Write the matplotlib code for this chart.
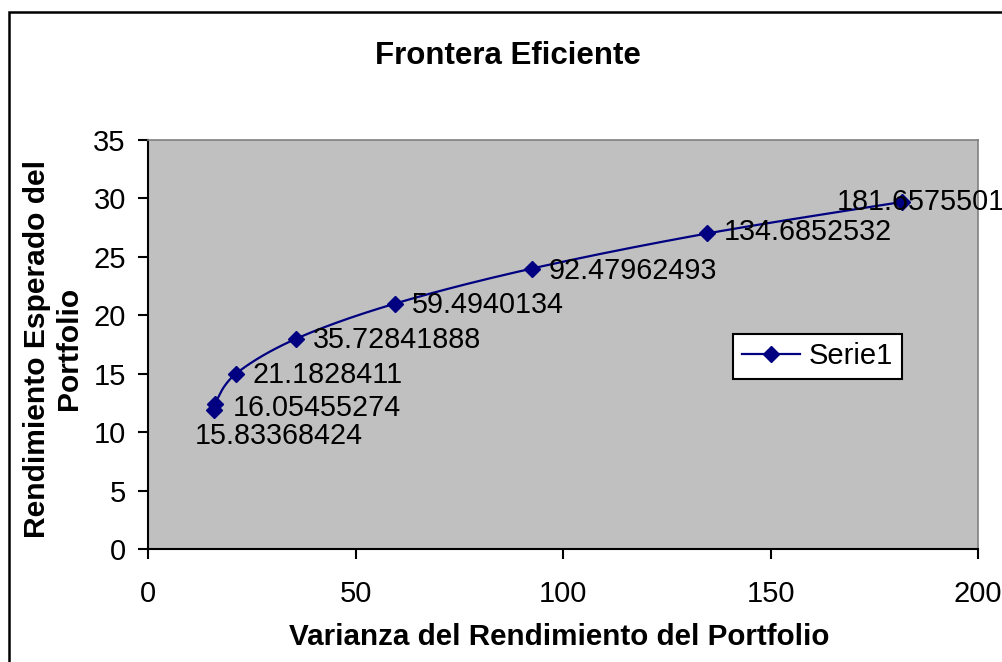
import matplotlib
matplotlib.use("Agg")
import matplotlib.pyplot as plt
from matplotlib.patches import Rectangle
import numpy as np

# Frontera eficiente: varianza vs rendimiento esperado
varianza = [15.83368424, 16.05455274, 21.1828411, 35.72841888,
            59.4940134, 92.47962493, 134.6852532, 181.6575501]
rendimiento = [11.9, 12.4, 15.0, 18.0, 21.0, 24.0, 27.0, 29.7]
xticks = [0, 50, 100, 150, 200]
yticks = [0, 5, 10, 15, 20, 25, 30, 35]

plt.rcParams['font.family'] = ['Liberation Sans', 'DejaVu Sans']
azul = '#000080'

fig = plt.figure(figsize=(10.03, 6.62), dpi=100)
ax = fig.add_axes([0.1476, 0.1707, 0.8276, 0.6178])
ax.set_facecolor('#c0c0c0')
ax.set_xlim(0, 200)
ax.set_ylim(0, 35)
ax.set_xticks(xticks)
ax.set_yticks(yticks)
ax.tick_params(labelsize=21, direction='out', length=7, width=1.5)
ax.tick_params(axis='y', pad=9)
ax.tick_params(axis='x', pad=15)


def suavizar(x, y, n=30):
    # curva tipo Excel (Catmull-Rom / Bezier) en coordenadas de pantalla
    pts = ax.transData.transform(np.column_stack([x, y]))
    out = [pts[0]]
    for i in range(len(pts) - 1):
        p0 = pts[max(i - 1, 0)]
        p1 = pts[i]
        p2 = pts[i + 1]
        p3 = pts[min(i + 2, len(pts) - 1)]
        c1 = p1 + (p2 - p0) / 6
        c2 = p2 - (p3 - p1) / 6
        t = np.linspace(0, 1, n)[1:, None]
        seg = ((1 - t) ** 3) * p1 + 3 * ((1 - t) ** 2) * t * c1 + 3 * (1 - t) * t ** 2 * c2 + t ** 3 * p2
        out.extend(seg)
    out = ax.transData.inverted().transform(np.array(out))
    return out[:, 0], out[:, 1]


sx, sy = suavizar(varianza, rendimiento)
ax.plot(sx, sy, color=azul, lw=1.6)
ax.plot(varianza, rendimiento, ls='none', marker='D', ms=8.5, color=azul)
ax.plot([], [], color=azul, lw=1.6, marker='D', ms=8.5, label='Serie1')

# desplazamientos de las etiquetas (puntos)
offs = [(-14, -19), (13, -3), (12, -1), (12, -1), (12, -1), (12, -2), (12, 1), (-47, 0)]
for x, y, (dx, dy) in zip(varianza, rendimiento, offs):
    ax.annotate(f"{x:.10g}", (x, y), xytext=(dx, dy), textcoords='offset points',
                ha='left', va='center', fontsize=20.7, annotation_clip=False)

for s in ['left', 'bottom']:
    ax.spines[s].set_linewidth(1.5)
for s in ['top', 'right']:
    ax.spines[s].set_color('#808080')
    ax.spines[s].set_linewidth(1.2)

ax.set_xlabel('Varianza del Rendimiento del Portfolio', fontsize=21.3, fontweight='bold', va='center')
ax.xaxis.set_label_coords(0.495, -0.215)
ax.set_ylabel('Rendimiento Esperado del\nPortfolio', fontsize=21.6, fontweight='bold', va='center')
ax.yaxis.set_label_coords(-0.1145, 0.49)
fig.text(0.506, 0.915, 'Frontera Eficiente', fontsize=22.5, fontweight='bold', ha='center', va='center')

leg = ax.legend(loc='center', bbox_to_anchor=(0.815, 0.4615), bbox_transform=fig.transFigure,
                fontsize=21, frameon=True, fancybox=False, framealpha=1, edgecolor='black',
                handlelength=2, borderpad=0.3, handletextpad=0.3)
leg.get_frame().set_linewidth(1.5)

# marco exterior del grafico
fig.patches.append(Rectangle((9 / 1003, -0.1), 1.2, 1.1 - 12 / 662, transform=fig.transFigure,
                             fill=False, edgecolor='black', lw=1.8))

fig.savefig('out.png', dpi=100)
